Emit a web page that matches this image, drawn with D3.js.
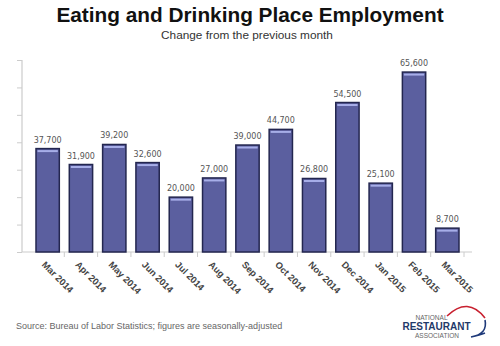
<!DOCTYPE html>
<html><head><meta charset="utf-8">
<script src="https://cdn.jsdelivr.net/npm/d3@7"></script>
<style>body{margin:0;background:#fff}svg{display:block}</style>
</head><body>
<script>
const categories = ["Mar 2014","Apr 2014","May 2014","Jun 2014","Jul 2014","Aug 2014","Sep 2014","Oct 2014","Nov 2014","Dec 2014","Jan 2015","Feb 2015","Mar 2015"];
const values = [37700,31900,39200,32600,20000,27000,39000,44700,26800,54500,25100,65600,8700];
const yTicks = [0,10000,20000,30000,40000,50000,60000,70000];

const W = 500, H = 346;
const svg = d3.select("body").append("svg").attr("width", W).attr("height", H);

const x = d3.scaleBand().domain(categories).range([31, 464]).paddingInner(0.3).paddingOuter(0.15);
const y = d3.scaleLinear().domain([0, 70000]).range([252, 60]);

// title
svg.append("text").attr("x", 250).attr("y", 22).attr("text-anchor", "middle")
  .attr("font-family", "Liberation Sans, Arial, sans-serif").attr("font-weight", "bold")
  .attr("font-size", 20.8).attr("fill", "#111").text("Eating and Drinking Place Employment");
svg.append("text").attr("x", 247).attr("y", 39).attr("text-anchor", "middle")
  .attr("font-family", "Liberation Sans, Arial, sans-serif")
  .attr("font-size", 11.8).attr("fill", "#333").text("Change from the previous month");

// y axis
const yAxis = d3.axisLeft(y).tickValues(yTicks).tickSize(5).tickFormat("");
const gy = svg.append("g").attr("transform", "translate(22,0)").call(yAxis);
gy.select(".domain").attr("stroke", "#ccc").attr("stroke-width", 1.2).attr("d", "M0,60V252");
gy.selectAll(".tick line").attr("stroke", "#ccc");

// x axis
const gx = svg.append("g").attr("transform", "translate(0,252)");
gx.append("line").attr("x1", 22).attr("x2", 472).attr("y1", 0).attr("y2", 0).attr("stroke", "#ccc").attr("stroke-width", 1.2);
const step = x.step();
const boundaries = categories.slice(1).map(c => x(c) - x.paddingInner() * step / 2);
boundaries.push(x(categories[categories.length-1]) + x.bandwidth() + x.paddingInner() * step / 2);
gx.selectAll("line.tk").data(boundaries).join("line").attr("class", "tk")
  .attr("x1", d => d).attr("x2", d => d).attr("y1", 0).attr("y2", 5).attr("stroke", "#ccc");

gx.selectAll("text.cat").data(categories).join("text").attr("class", "cat")
  .attr("transform", d => `translate(${x(d) + x.bandwidth()/2 - 4},${11}) rotate(45)`)
  .attr("font-family", "Liberation Sans, Arial, sans-serif").attr("font-weight", "bold")
  .attr("font-size", 9.3).attr("fill", "#444").attr("dy", "0.35em").text(d => d);

// bars
const bars = svg.append("g");
const data = categories.map((c, i) => ({c, v: values[i]}));
bars.selectAll("rect.bar").data(data).join("rect").attr("class", "bar")
  .attr("x", d => x(d.c)).attr("width", x.bandwidth())
  .attr("y", d => y(d.v)).attr("height", d => y(0) - y(d.v))
  .attr("fill", "#5b5f9f").attr("stroke", "#23264f").attr("stroke-width", 1.5);
bars.selectAll("rect.hl").data(data).join("rect").attr("class", "hl")
  .attr("x", d => x(d.c) + 1.5).attr("width", x.bandwidth() - 3)
  .attr("y", d => y(d.v) + 1.5).attr("height", 2)
  .attr("fill", "#a7aee8");

bars.selectAll("text.val").data(data).join("text").attr("class", "val")
  .attr("x", d => x(d.c) + x.bandwidth()/2).attr("y", d => y(d.v) - 6)
  .attr("text-anchor", "middle").attr("font-family", "DejaVu Sans, Verdana, sans-serif")
  .attr("font-size", 8).attr("fill", "#555").text(d => d3.format(",")(d.v));

// source
svg.append("text").attr("x", 16).attr("y", 329)
  .attr("font-family", "Liberation Sans, Arial, sans-serif")
  .attr("font-size", 9).attr("fill", "#666")
  .text("Source: Bureau of Labor Statistics; figures are seasonally-adjusted");

// logo
const logo = svg.append("g");
logo.append("path").attr("d", "M447,316 Q468,296 485,318").attr("fill", "none").attr("stroke", "#c8202f").attr("stroke-width", 1.6);
logo.append("path").attr("d", "M485,320 Q488,334 471,337 Q480,335 485,333").attr("fill", "none").attr("stroke", "#1f3a7a").attr("stroke-width", 1.6);
logo.append("text").attr("x", 431.5).attr("y", 320).attr("text-anchor", "middle")
  .attr("font-family", "Liberation Sans, Arial, sans-serif").attr("font-size", 6.5).attr("fill", "#666").text("NATIONAL");
logo.append("text").attr("x", 436.5).attr("y", 330).attr("text-anchor", "middle")
  .attr("font-family", "Liberation Sans, Arial, sans-serif").attr("font-weight", "bold").attr("font-size", 10).attr("fill", "#1f3a6a").text("RESTAURANT");
logo.append("text").attr("x", 437).attr("y", 337.5).attr("text-anchor", "middle")
  .attr("font-family", "Liberation Sans, Arial, sans-serif").attr("font-size", 6.5).attr("fill", "#666").text("ASSOCIATION");
</script>
</body></html>
